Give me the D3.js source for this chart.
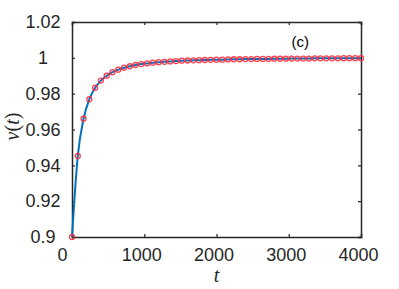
<!DOCTYPE html>
<html>
<head>
<meta charset="utf-8">
<script src="https://cdn.jsdelivr.net/npm/d3@7"></script>
<style>
  body { margin: 0; background: #fff; }
  svg { display: block; }
  .tick text { font-family: "Liberation Sans", Arial, sans-serif; font-size: 18px; fill: #262626; }
</style>
</head>
<body>
<svg id="chart"></svg>
<script>
// sample times (step 80) and v(t)
const tValues = d3.range(0, 4001, 80);
const vValues = [
  0.9000, 0.9452, 0.9660, 0.9769, 0.9833, 0.9873, 0.9900, 0.9920, 0.9934, 0.9945,
  0.9953, 0.9960, 0.9965, 0.9969, 0.9973, 0.9976, 0.9978, 0.9980, 0.9982, 0.9984,
  0.9985, 0.9986, 0.9987, 0.9988, 0.9989, 0.9990, 0.9990, 0.9991, 0.9992, 0.9992,
  0.9993, 0.9993, 0.9994, 0.9994, 0.9994, 0.9995, 0.9995, 0.9995, 0.9996, 0.9996,
  0.9996, 0.9996, 0.9997, 0.9997, 0.9997, 0.9997, 0.9997, 0.9998, 0.9998, 0.9998,
  0.9998
];
const xTicks = [0, 1000, 2000, 3000, 4000];
const yTicks = [0.9, 0.92, 0.94, 0.96, 0.98, 1, 1.02];
const panelLabel = "(c)";

const width = 399, height = 289;
const margin = { top: 22, right: 38, bottom: 52, left: 72 };
const innerW = width - margin.left - margin.right;
const innerH = height - margin.top - margin.bottom;
const axisColor = "#262626";

const data = tValues.map((t, i) => ({ t: t, v: vValues[i] }));

const svg = d3.select("#chart").attr("width", width).attr("height", height);
const g = svg.append("g").attr("transform", `translate(${margin.left},${margin.top})`);

const x = d3.scaleLinear().domain([0, 4000]).range([0, innerW]);
const y = d3.scaleLinear().domain([0.9, 1.02]).range([innerH, 0]);

// bottom / top axes, ticks pointing inward
const xAxis = g.append("g")
  .attr("transform", `translate(0,${innerH})`)
  .call(d3.axisBottom(x).tickValues(xTicks).tickSize(-3).tickPadding(11).tickFormat(d3.format("d")));
xAxis.selectAll("text")
  .attr("dx", d => d === 0 ? -10 : -3);

g.append("g")
  .call(d3.axisTop(x).tickValues(xTicks).tickSize(-3).tickFormat(""));

// left / right axes
const yAxis = g.append("g")
  .call(d3.axisLeft(y).tickValues(yTicks).tickSize(-3).tickPadding(11).tickFormat(d => d3.format("")(+d.toFixed(2))));
yAxis.selectAll("text")
  .attr("text-anchor", "middle")
  .attr("x", -29);

g.append("g")
  .attr("transform", `translate(${innerW},0)`)
  .call(d3.axisRight(y).tickValues(yTicks).tickSize(-3).tickFormat(""));

g.selectAll(".domain").attr("stroke", axisColor).attr("stroke-width", 1.5);
g.selectAll(".tick line").attr("stroke", axisColor).attr("stroke-width", 1.2);

// the curve
const line = d3.line()
  .x(d => x(d.t))
  .y(d => y(d.v))
  .curve(d3.curveMonotoneX);

g.append("path")
  .datum(data)
  .attr("fill", "none")
  .attr("stroke", "#0072BD")
  .attr("stroke-width", 2)
  .attr("d", line);

g.selectAll("circle.pt")
  .data(data)
  .enter()
  .append("circle")
  .attr("class", "pt")
  .attr("cx", d => x(d.t))
  .attr("cy", d => y(d.v))
  .attr("r", 2.5)
  .attr("fill", "none")
  .attr("stroke", "#ff2a3a")
  .attr("stroke-opacity", 0.9)
  .attr("stroke-width", 1.3);

// panel label
g.append("text")
  .attr("x", x(3160))
  .attr("y", y(1.009))
  .attr("dy", "0.35em")
  .attr("text-anchor", "middle")
  .style("font-family", "Liberation Sans, Arial, sans-serif")
  .style("font-size", "15px")
  .style("fill", "#000")
  .text(panelLabel);

// axis labels
const xLabel = svg.append("text")
  .attr("x", margin.left + innerW / 2)
  .attr("y", 282)
  .attr("text-anchor", "middle")
  .style("font-family", "Liberation Serif, serif")
  .style("font-size", "20px")
  .style("fill", axisColor);
xLabel.append("tspan").style("font-style", "italic").text("t");

const yLabel = svg.append("text")
  .attr("transform", `translate(19,${margin.top + innerH / 2 - 3}) rotate(-90)`)
  .attr("text-anchor", "middle")
  .style("font-family", "Liberation Serif, serif")
  .style("font-size", "20px")
  .style("fill", axisColor);
yLabel.append("tspan").style("font-style", "italic").text("v");
yLabel.append("tspan").text("(");
yLabel.append("tspan").style("font-style", "italic").text("t");
yLabel.append("tspan").text(")");
</script>
</body>
</html>
